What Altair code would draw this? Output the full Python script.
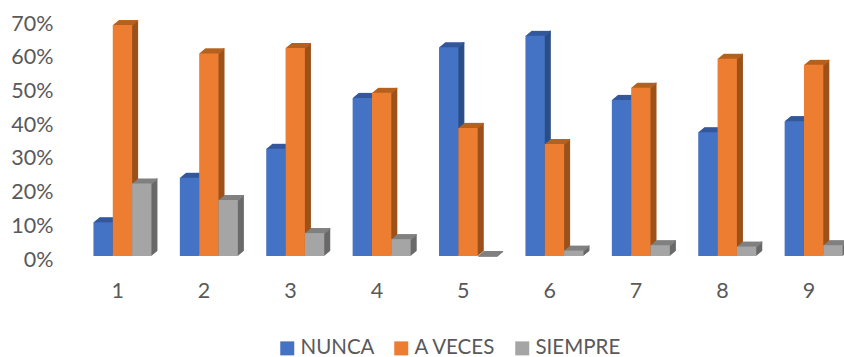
import altair as alt
import pandas as pd

# Share of answers per question, as fractions
questions = [1, 2, 3, 4, 5, 6, 7, 8, 9]
nunca = [0.100, 0.232, 0.318, 0.469, 0.619, 0.653, 0.463, 0.367, 0.400]
a_veces = [0.685, 0.601, 0.617, 0.484, 0.380, 0.332, 0.499, 0.585, 0.567]
siempre = [0.215, 0.166, 0.068, 0.050, 0.000, 0.016, 0.032, 0.028, 0.032]
series_names = ["NUNCA", "A VECES", "SIEMPRE"]
series_values = [nunca, a_veces, siempre]

front_colors = ["#4472C4", "#ED7D31", "#A5A5A5"]
side_colors = ["#2C4F88", "#9C521B", "#6A6A6A"]
top_colors = ["#34589C", "#B5621F", "#808080"]

BAR_UNITS = 0.2238      # bar width in question units
GROUP_SHIFT = 0.275     # first bar starts this far left of the question's tick
DEPTH_X = 6.0           # extrusion depth in pixels
DEPTH_Y = 5.0
STEP = 0.5

FONT = "Lato"
TEXT = "#595959"

x_scale = alt.Scale(domain=[0.5, 9.5], range=[0, 777.6], nice=False, zero=False)
y_scale = alt.Scale(domain=[0, 0.7], nice=False)
x_axis = alt.Axis(
    values=questions, format="d", domain=False, ticks=False, grid=False,
    labelFont=FONT, labelFontSize=21.5, labelColor=TEXT, labelPadding=24,
)
y_axis = alt.Axis(
    values=[0, 0.1, 0.2, 0.3, 0.4, 0.5, 0.6, 0.7], format=".0%", domain=False,
    ticks=False, grid=False, labelFont=FONT, labelFontSize=21.5,
    labelColor=TEXT, labelPadding=21, labelOffset=4,
)


def series_table(idx):
    start = [q - GROUP_SHIFT + idx * BAR_UNITS for q in questions]
    return pd.DataFrame({
        "question": questions,
        "series": series_names[idx],
        "value": series_values[idx],
        "x_start": start,
        "x_end": [s + BAR_UNITS for s in start],
        "base": 0.0,
    })


def x_enc(field):
    return alt.X(f"{field}:Q", scale=x_scale, title=None, axis=x_axis)


y_enc = alt.Y("value:Q", scale=y_scale, title=None, axis=y_axis)

layers = []
for i in range(3):
    table = series_table(i)
    steps = int(DEPTH_X / STEP)

    # Extruded right-hand face
    for k in range(1, steps + 1):
        dx = k * STEP
        dy = dx * DEPTH_Y / DEPTH_X
        layers.append(
            alt.Chart(table).mark_rect(
                color=side_colors[i], xOffset=dx - 1.5, x2Offset=dx,
                yOffset=-dy, y2Offset=-dy,
            ).encode(x=x_enc("x_end"), x2="x_end:Q", y=y_enc, y2="base:Q")
        )

    # Extruded top face
    for k in range(1, steps + 1):
        dx = k * STEP
        dy = dx * DEPTH_Y / DEPTH_X
        layers.append(
            alt.Chart(table).mark_rect(
                color=top_colors[i], xOffset=dx, x2Offset=dx,
                yOffset=-dy, y2Offset=-dy + 1.2,
            ).encode(x=x_enc("x_start"), x2="x_end:Q", y=y_enc, y2="value:Q")
        )

    # Front face, carrying the legend
    layers.append(
        alt.Chart(table).mark_rect().encode(
            x=x_enc("x_start"),
            x2="x_end:Q",
            y=y_enc,
            y2="base:Q",
            color=alt.Color(
                "series:N",
                scale=alt.Scale(domain=series_names, range=front_colors),
                legend=alt.Legend(
                    title=None, orient="none", legendX=203, legendY=318,
                    direction="horizontal", symbolType="square", symbolSize=196,
                    symbolStrokeWidth=0, labelFont=FONT, labelFontSize=20.5,
                    labelColor=TEXT, columnPadding=16, labelOffset=3, padding=0,
                ),
            ),
        )
    )

chart = alt.layer(*layers).properties(
    width=770,
    height=236,
    padding={"left": 74, "top": 20, "right": 0, "bottom": 101},
    autosize=alt.AutoSizeParams(type="none"),
    background="white",
).configure_view(stroke=None)

chart.save("out.html", embed_options={"renderer": "svg", "actions": False})
